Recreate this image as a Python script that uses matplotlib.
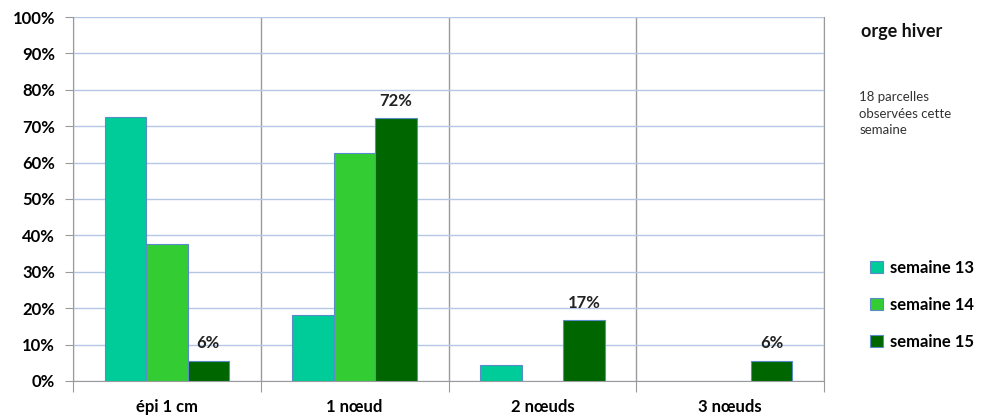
import matplotlib.pyplot as plt
import numpy as np

plt.rcParams['font.family'] = ['Lato', 'DejaVu Sans']

stades = ['épi 1 cm', '1 nœud', '2 nœuds', '3 nœuds']
semaines = ['semaine 13', 'semaine 14', 'semaine 15']
sem13 = [72.5, 18.0, 4.5, 0.0]
sem14 = [37.5, 62.5, 0.0, 0.0]
sem15 = [5.6, 72.2, 16.7, 5.6]
labels15 = ['6%', '72%', '17%', '6%']
couleurs = ['#00CC99', '#33CC33', '#006600']

fig = plt.figure(figsize=(9.81, 4.15), dpi=100)
ax = fig.add_axes([0.0744, 0.082, 0.7656, 0.877])

x = np.arange(len(stades))
w = 0.221
for i, (vals, c, lab) in enumerate(zip([sem13, sem14, sem15], couleurs, semaines)):
    ax.bar(x + (i - 1) * w, vals, w, color=c, edgecolor='#5b8bc9',
           linewidth=[0.8 if v > 0 else 0 for v in vals], label=lab, zorder=3)

# labels on semaine 15
for xi, v, t in zip(x, sem15, labels15):
    ax.text(xi + w, v + 2.5, t, ha='center', va='bottom', fontsize=12,
            fontweight='bold', color='#222222', zorder=4)

ax.set_xlim(-0.5, len(stades) - 0.5)
ax.set_ylim(0, 100)
ax.set_yticks(np.arange(0, 101, 10))
ax.set_yticklabels([f'{v}%' for v in range(0, 101, 10)], fontsize=12, fontweight='bold')
ax.yaxis.grid(True, color='#b4c8e6', linewidth=1.0, zorder=0)

ax.set_xticks(np.arange(-0.5, len(stades), 1.0))
ax.set_xticklabels([])
ax.xaxis.grid(True, color='#9a9a9a', linewidth=1.0, zorder=0)
ax.set_xticks(x, minor=True)
ax.set_xticklabels(stades, minor=True, fontsize=12, fontweight='bold')
ax.tick_params(axis='x', which='minor', length=0, pad=13)
ax.tick_params(axis='x', which='major', length=8, color='#9a9a9a')
ax.tick_params(axis='y', length=6, color='#9a9a9a', pad=7)

for s in ['left', 'bottom', 'right']:
    ax.spines[s].set_color('#9a9a9a')
ax.spines['top'].set_visible(False)
ax.set_axisbelow(True)

fig.text(0.878, 0.91, 'orge hiver', fontsize=13, fontweight='bold', color='#111111')
fig.text(0.876, 0.78, '18 parcelles\nobservées cette\nsemaine', fontsize=9.5,
         color='#333333', va='top', linespacing=1.45)

ax.legend(loc='center left', bbox_to_anchor=(0.887, 0.265), bbox_transform=fig.transFigure,
          frameon=False, prop={'weight': 'bold', 'size': 12},
          handlelength=0.75, handleheight=0.75, handletextpad=0.45, labelspacing=1.25,
          borderaxespad=0, borderpad=0)

fig.savefig('out.png', dpi=100)
